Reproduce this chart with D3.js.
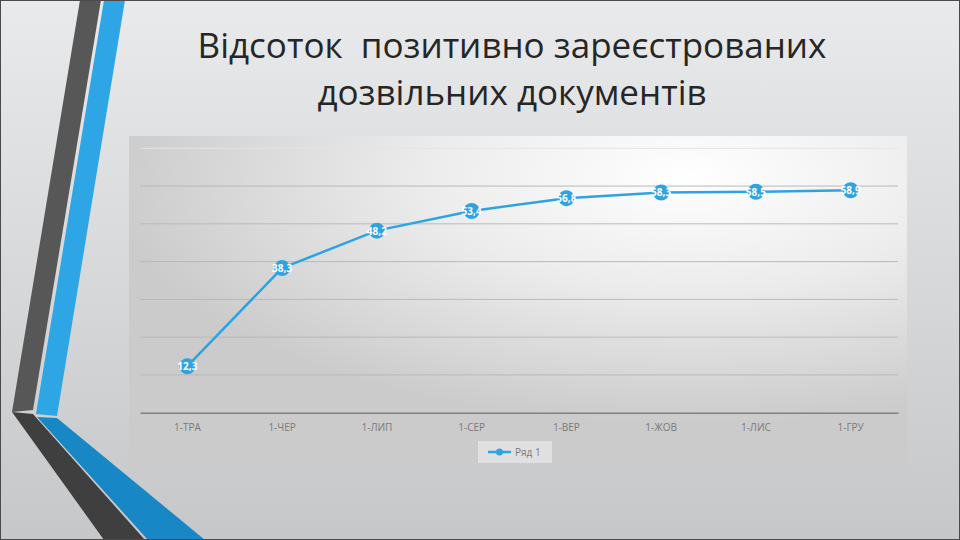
<!DOCTYPE html>
<html>
<head>
<meta charset="utf-8">
<script src="https://cdn.jsdelivr.net/npm/d3@7"></script>
<style>
  html, body { margin: 0; padding: 0; }
  body { width: 960px; height: 540px; overflow: hidden; }
  text.title { white-space: pre; }
</style>
</head>
<body>
<div id="chart"></div>
<script>
// chart data
const months = ["1-ТРА", "1-ЧЕР", "1-ЛИП", "1-СЕР", "1-ВЕР", "1-ЖОВ", "1-ЛИС", "1-ГРУ"];
const values = [12.3, 38.3, 48.2, 53.4, 56.8, 58.3, 58.5, 58.9];
const yTicks = [0, 10, 20, 30, 40, 50, 60, 70];
const seriesName = "Ряд 1";
const titleLines = ["Відсоток  позитивно зареєстрованих", "дозвільних документів"];

const width = 960, height = 540;
const blue = "#2fa3e2";

const svg = d3.select("#chart").append("svg")
  .attr("width", width)
  .attr("height", height);

const defs = svg.append("defs");

const bg = defs.append("linearGradient").attr("id", "bg")
  .attr("x1", 0).attr("y1", 0).attr("x2", 0).attr("y2", 1);
bg.append("stop").attr("offset", "0%").attr("stop-color", "#e9eaeb");
bg.append("stop").attr("offset", "100%").attr("stop-color", "#c5c7c9");

const panel = defs.append("radialGradient").attr("id", "panel")
  .attr("cx", 0.72).attr("cy", 0.12).attr("r", 0.75);
panel.append("stop").attr("offset", "0%").attr("stop-color", "#ffffff");
panel.append("stop").attr("offset", "45%").attr("stop-color", "#ececec");
panel.append("stop").attr("offset", "100%").attr("stop-color", "#cbcbcb");

// slide background
svg.append("rect")
  .attr("width", width).attr("height", height)
  .attr("fill", "url(#bg)");

// left decoration stripes
const stripes = [
  { pts: [[80, 0], [101, 0], [33, 410], [12, 412]], fill: "#575757" },
  { pts: [[12, 412], [33, 414], [145, 540], [104, 540]], fill: "#3f3f3f" },
  { pts: [[104, 0], [125, 0], [57, 416], [36, 414]], fill: "#2ea6e6" },
  { pts: [[37, 417], [57, 418], [205, 540], [148, 540]], fill: "#1787c6" }
];
svg.selectAll("polygon.stripe")
  .data(stripes)
  .enter().append("polygon")
  .attr("class", "stripe")
  .attr("points", d => d.pts.map(p => p.join(",")).join(" "))
  .attr("fill", d => d.fill);

svg.append("rect")
  .attr("x", 0.5).attr("y", 0.5)
  .attr("width", width - 1).attr("height", height - 1)
  .attr("fill", "none").attr("stroke", "#4a4a4a");

// title
svg.selectAll("text.title")
  .data(titleLines)
  .enter().append("text")
  .attr("class", "title")
  .attr("x", 512)
  .attr("y", (d, i) => 58 + i * 47)
  .attr("text-anchor", "middle")
  .attr("font-family", "'Open Sans', sans-serif")
  .attr("font-size", 35)
  .attr("fill", "#262626")
  .text(d => d);

// chart panel
svg.append("rect")
  .attr("x", 129).attr("y", 136)
  .attr("width", 778).attr("height", 332)
  .attr("fill", "url(#panel)");

const x = d3.scaleBand().domain(months).range([140, 898]);
const y = d3.scaleLinear().domain([0, 70]).range([412.7, 148.3]);

// gridlines
svg.append("g")
  .selectAll("line")
  .data(yTicks.slice(1))
  .enter().append("line")
  .attr("x1", 140).attr("x2", 898)
  .attr("y1", d => y(d)).attr("y2", d => y(d))
  .attr("stroke", d => d === 70 ? "#e4e4e4" : "#b9b9b9")
  .attr("stroke-width", 1);

// x axis
const xAxis = svg.append("g")
  .attr("transform", `translate(0,${y(0)})`)
  .call(d3.axisBottom(x).tickSize(0).tickPadding(11));
xAxis.select(".domain")
  .attr("stroke", "#808080")
  .attr("stroke-width", 1.5);
xAxis.selectAll("text")
  .attr("font-family", "'Open Sans', sans-serif")
  .attr("font-size", 10)
  .attr("fill", "#7a7a7a");

// series line
const line = d3.line()
  .x((d, i) => x(months[i]) + x.bandwidth() / 2)
  .y(d => y(d));

svg.append("path")
  .datum(values)
  .attr("d", line)
  .attr("fill", "none")
  .attr("stroke", blue)
  .attr("stroke-width", 2.5);

svg.selectAll("circle.pt")
  .data(values)
  .enter().append("circle")
  .attr("class", "pt")
  .attr("cx", (d, i) => x(months[i]) + x.bandwidth() / 2)
  .attr("cy", d => y(d))
  .attr("r", 8)
  .attr("fill", blue);

svg.selectAll("text.lbl")
  .data(values)
  .enter().append("text")
  .attr("class", "lbl")
  .attr("x", (d, i) => x(months[i]) + x.bandwidth() / 2)
  .attr("y", d => y(d) + 4)
  .attr("text-anchor", "middle")
  .attr("font-family", "'Open Sans', sans-serif")
  .attr("font-weight", "bold")
  .attr("font-size", 10)
  .attr("fill", "#ffffff")
  .text(d => d.toFixed(1).replace(".", ","));

// legend
const legend = svg.append("g").attr("transform", "translate(478,441)");
legend.append("rect")
  .attr("width", 74).attr("height", 22)
  .attr("fill", "#eeeeee").attr("opacity", 0.6);
legend.append("line")
  .attr("x1", 10).attr("x2", 33).attr("y1", 11).attr("y2", 11)
  .attr("stroke", blue).attr("stroke-width", 2.5);
legend.append("circle")
  .attr("cx", 21.5).attr("cy", 11).attr("r", 3.5)
  .attr("fill", blue);
legend.append("text")
  .attr("x", 37).attr("y", 15)
  .attr("font-family", "'Open Sans', sans-serif")
  .attr("font-size", 10)
  .attr("fill", "#7a7a7a")
  .text(seriesName);
</script>
</body>
</html>
